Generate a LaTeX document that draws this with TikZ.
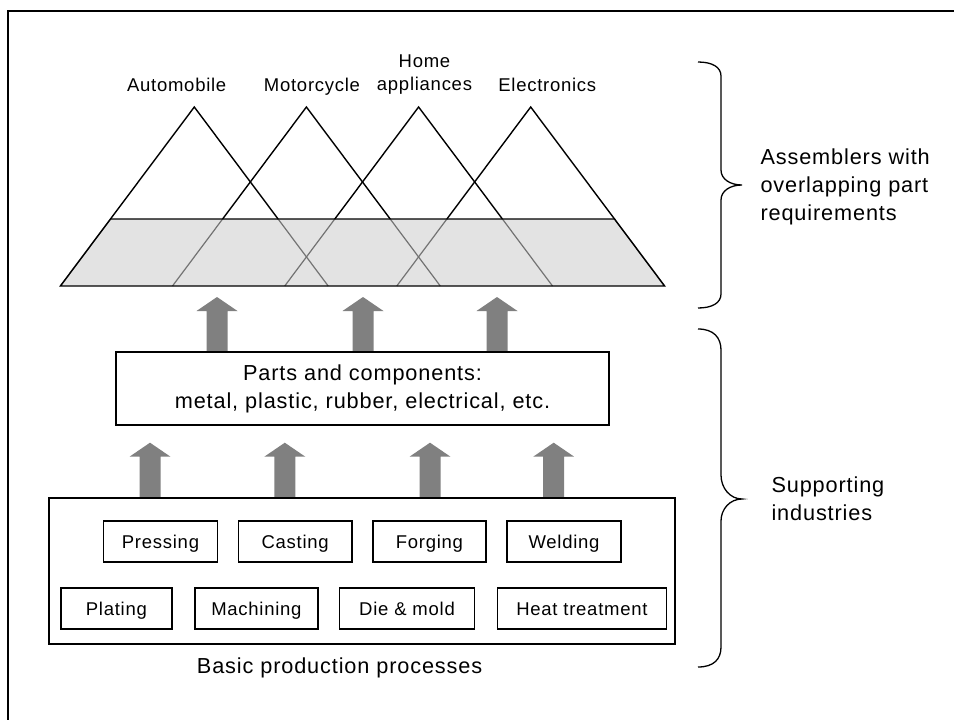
\documentclass[tikz,border=0pt]{standalone}
\usepackage{fontspec}
\setmainfont{Liberation Sans}[LetterSpace=4]
\begin{document}
\begin{tikzpicture}[x=1pt,y=-1pt,
  bigtxt/.style={font=\fontsize{21.7}{28}\selectfont},
  smalltxt/.style={font=\fontsize{18.5}{23}\selectfont},
  box/.style={draw=black,line width=1.6pt,rectangle,inner sep=0pt},
  procbox/.style={box,smalltxt,minimum height=41pt,text height=13.2pt,text depth=0pt},
  tri/.style={line width=1.4pt,draw=black},
  triband/.style={line width=1.2pt,draw=black!55},
  bandfill/.style={fill=black!11},
  blockarrow/.style={fill=black!50},
  bracestyle/.style={line width=1.3pt,draw=black},
  uparrow/.pic={\fill[blockarrow] (-10.5,0) -- (-10.5,-41) -- (-20.5,-41) -- (0,-55) -- (20.5,-41) -- (10.5,-41) -- (10.5,0) -- cycle;}
]
\useasboundingbox (0,0) rectangle (954,720);
\fill[white] (0,0) rectangle (954,720);
% frame
\draw[line width=2.5pt] (954,11) -- (8,11) -- (8,720);

% triangles
\foreach \ax [count=\i] in {194.3,306.4,418.6,530.7} {
  \coordinate (apex\i) at (\ax,107);
  \coordinate (tl\i) at (\ax-83.8,219);
  \coordinate (tr\i) at (\ax+83.8,219);
  \coordinate (bl\i) at (\ax-133.9,286);
  \coordinate (br\i) at (\ax+133.9,286);
}
\fill[bandfill] (bl1) -- (br4) -- (tr4) -- (tl1) -- cycle;
\foreach \i in {1,...,4} {
  \draw[triband] (tl\i) -- (bl\i);
  \draw[triband] (tr\i) -- (br\i);
}
\draw[tri] (bl1) -- (br4) -- (tr4) -- (tl1) -- cycle;
\foreach \i in {1,...,4} {
  \draw[tri] (tl\i) -- (apex\i) -- (tr\i);
}

% labels
\node[smalltxt,anchor=base] (lauto) at (176.7,91) {Automobile};
\node[smalltxt,anchor=base] (lmoto) at (312,91) {Motorcycle};
\node[smalltxt,align=center] (lhome) at (424.5,74.5) {Home\\appliances};
\node[smalltxt,anchor=base] (lelec) at (547.3,91) {Electronics};

% arrows
\foreach \ax in {217,363,497} { \pic at (\ax,352) {uparrow}; }
\foreach \ax in {150,284.8,430,553.7} { \pic at (\ax,497.7) {uparrow}; }

% parts box
\node[box,bigtxt,align=center,minimum width=493pt,minimum height=73pt] (parts) at (362.5,388.5)
  {Parts and components:\\metal, plastic, rubber, electrical, etc.};

% basic processes box
\node[box,minimum width=626pt,minimum height=146pt] (basic) at (362,570.8) {};
\node[procbox,minimum width=114pt] (pressing) at (160.5,541.5) {Pressing};
\node[procbox,minimum width=113.7pt] (casting) at (295.2,541.5) {Casting};
\node[procbox,minimum width=113pt] (forging) at (429.4,541.5) {Forging};
\node[procbox,minimum width=114pt] (welding) at (564,541.5) {Welding};
\node[procbox,minimum width=111.3pt] (plating) at (116.4,608.5) {Plating};
\node[procbox,minimum width=123.2pt] (machining) at (256.4,608.5) {Machining};
\node[procbox,minimum width=134.8pt] (diemold) at (407,608.5) {Die \& mold};
\node[procbox,minimum width=169.2pt] (heat) at (581.9,608.5) {Heat treatment};
\node[bigtxt,anchor=base] (basiclbl) at (339.6,673.5) {Basic production processes};

% braces
\draw[bracestyle] (698,62) .. controls (712,62) and (721,67) .. (721,76) -- (721,170)
  .. controls (721,179) and (730,185) .. (742,185)
  .. controls (730,185) and (721,191) .. (721,200) -- (721,294)
  .. controls (721,303) and (712,308) .. (698,308);
\draw[bracestyle] (698,329) .. controls (714,329) and (721,338) .. (721,350) -- (721,475)
  .. controls (721,488) and (730,499) .. (742,499)
  .. controls (730,499) and (721,509) .. (721,521) -- (721,647)
  .. controls (721,659) and (714,667) .. (698,667);

\node[bigtxt,align=left,anchor=west] (asm) at (757,187) {Assemblers with\\overlapping part\\requirements};
\node[bigtxt,align=left,anchor=west] (sup) at (768,499) {Supporting\\industries};
\end{tikzpicture}
\end{document}
